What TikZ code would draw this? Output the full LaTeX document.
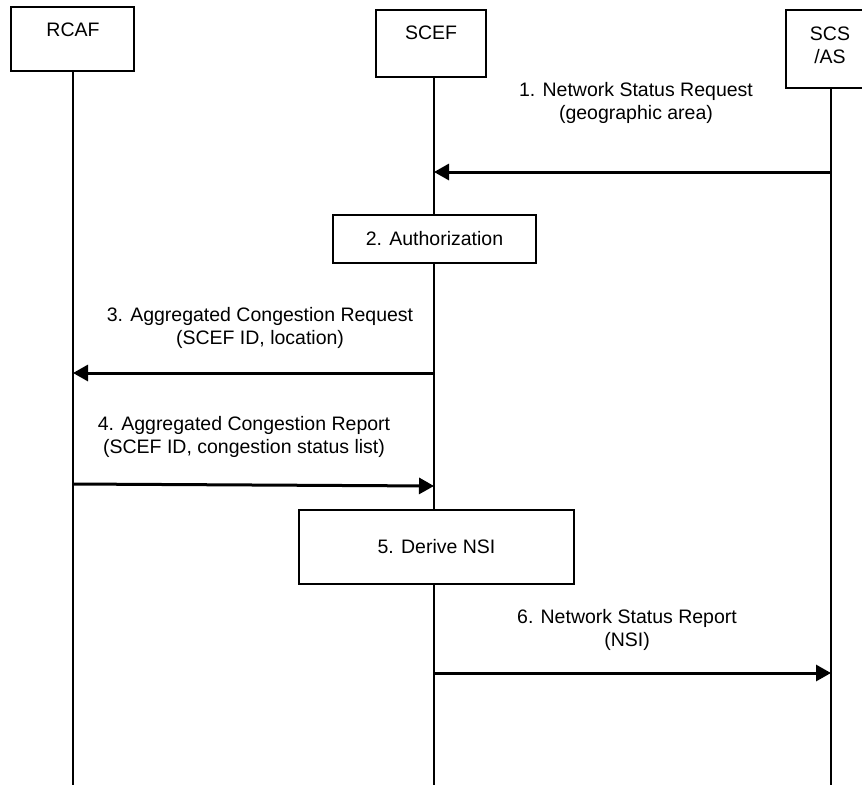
\documentclass[tikz,border=0pt]{standalone}
\usepackage{fontspec}
\setmainfont{Liberation Sans}
\usetikzlibrary{positioning,arrows.meta}

\begin{document}
\begin{tikzpicture}[
  x=1pt, y=-1pt,
  every node/.style={font=\fontsize{19.5}{23}\selectfont},
  entitynode/.style={rectangle, draw=black, line width=2pt, inner sep=0pt},
  actionnode/.style={rectangle, draw=black, fill=white, line width=2pt, inner sep=0pt},
  labelnode/.style={align=center, inner sep=0pt},
  lifeline/.style={line width=2pt},
  message/.style={line width=3pt, -{Triangle[length=15pt,width=16pt]}}
]
\useasboundingbox (0,0) rectangle (862,785);

%Entities
\node[entitynode, minimum width=123pt, minimum height=64pt] (rcaf) at (72.5,39) {};
\node[labelnode] (rcaf name) at (73,30) {RCAF};
\node[entitynode, minimum width=110pt, minimum height=67pt] (scef) at (431,43.5) {};
\node[labelnode] (scef name) at (431,33) {SCEF};
\node[entitynode, minimum width=90pt, minimum height=78pt] (scs) at (831,49) {};
\node[labelnode] (scs name) at (830,45) {SCS\\/AS};

%Lifelines
\coordinate (rcaf end) at (73,785);
\coordinate (scef end) at (434,785);
\coordinate (scs end) at (831,785);
\draw[lifeline] (rcaf end |- rcaf.south) -- (rcaf end);
\draw[lifeline] (scef end |- scef.south) -- (scef end);
\draw[lifeline] (scs end |- scs.south) -- (scs end);

%Actions
\node[actionnode, minimum width=203pt, minimum height=48pt] (auth) at (434.5,239) {2. Authorization};
\node[actionnode, minimum width=275pt, minimum height=74pt] (derive) at (436.5,547) {5. Derive NSI};

%Message ends
\coordinate (m1 from) at (831,172);
\coordinate (m1 to) at (434,172);
\coordinate (m3 from) at (434,373);
\coordinate (m3 to) at (73,373);
\coordinate (m4 from) at (73,484);
\coordinate (m4 to) at (434,486);
\coordinate (m6 from) at (434,673);
\coordinate (m6 to) at (831,673);

%Arrows
\draw[message] (m1 from) -- (m1 to);
\draw[message] (m3 from) -- (m3 to);
\draw[message] (m4 from) -- (m4 to);
\draw[message] (m6 from) -- (m6 to);

%Message labels
\node[labelnode] (m1 text) at (636,103) {1. Network Status Request\\(geographic area)};
\node[labelnode] (m3 text) at (260,328) {3. Aggregated Congestion Request\\(SCEF ID, location)};
\node[labelnode] (m4 text) at (244,437) {4. Aggregated Congestion Report\\(SCEF ID, congestion status list)};
\node[labelnode] (m6 text) at (627,630) {6. Network Status Report\\(NSI)};
\end{tikzpicture}
\end{document}
